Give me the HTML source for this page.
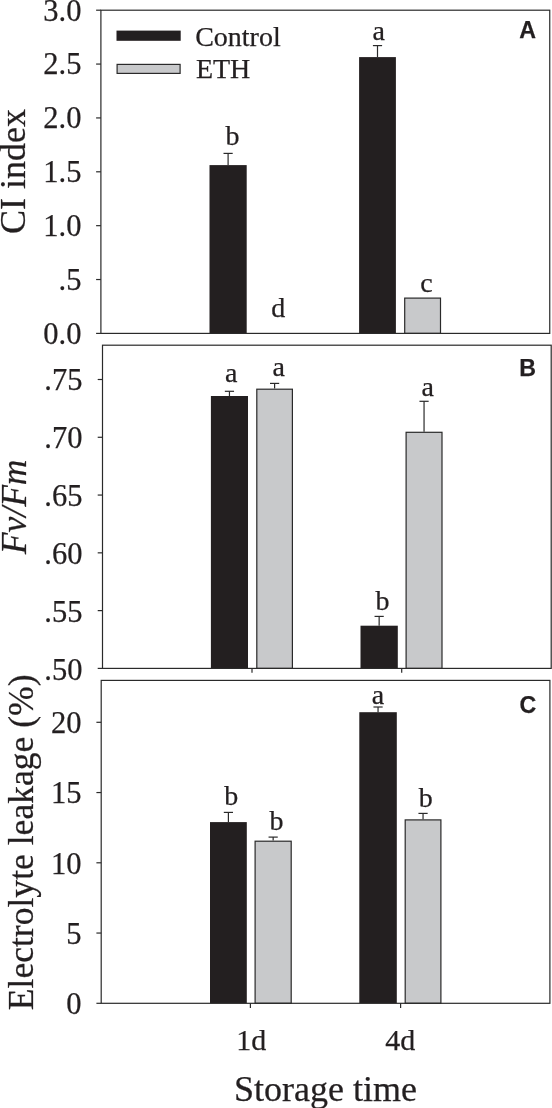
<!DOCTYPE html>
<html><head><meta charset="utf-8"><title>Figure</title>
<style>
html,body{margin:0;padding:0;background:#fff;}
body{width:552px;height:1108px;overflow:hidden;}
svg{display:block;will-change:transform;}
text{fill:#231f20;stroke:#231f20;stroke-width:0.25px;font-kerning:normal;}
</style></head>
<body>
<svg width="552" height="1108" viewBox="0 0 552 1108">
<rect width="552" height="1108" fill="#fff"/>
<rect x="209.50" y="165.10" width="37.20" height="168.30" fill="#231f20"/>
<line x1="228.10" y1="153.40" x2="228.10" y2="165.10" stroke="#2a2a2a" stroke-width="1.2"/>
<line x1="223.50" y1="153.40" x2="232.70" y2="153.40" stroke="#2a2a2a" stroke-width="1.2"/>
<text x="225.53" y="145.08" font-size="28" font-family='"Liberation Serif", serif'>b</text>
<text x="271.17" y="316.88" font-size="28" font-family='"Liberation Serif", serif'>d</text>
<rect x="359.10" y="57.10" width="36.80" height="276.30" fill="#231f20"/>
<line x1="377.50" y1="45.60" x2="377.50" y2="57.10" stroke="#2a2a2a" stroke-width="1.2"/>
<line x1="372.90" y1="45.60" x2="382.10" y2="45.60" stroke="#2a2a2a" stroke-width="1.2"/>
<text x="372.49" y="39.83" font-size="28" font-family='"Liberation Serif", serif'>a</text>
<rect x="404.70" y="298.10" width="35.80" height="35.30" fill="#c8c9cb" stroke="#2a2a2a" stroke-width="1.2"/>
<text x="420.28" y="291.76" font-size="28" font-family='"Liberation Serif", serif'>c</text>
<rect x="100.90" y="10.20" width="448.85" height="323.20" fill="none" stroke="#2a2a2a" stroke-width="1.2"/>
<line x1="96.10" y1="10.20" x2="100.90" y2="10.20" stroke="#2a2a2a" stroke-width="1.2"/>
<text x="43.34" y="20.53" font-size="30.5" font-family='"Liberation Serif", serif'>3.0</text>
<line x1="96.10" y1="64.07" x2="100.90" y2="64.07" stroke="#2a2a2a" stroke-width="1.2"/>
<text x="43.37" y="74.35" font-size="30.5" font-family='"Liberation Serif", serif'>2.5</text>
<line x1="96.10" y1="117.93" x2="100.90" y2="117.93" stroke="#2a2a2a" stroke-width="1.2"/>
<text x="43.34" y="128.26" font-size="30.5" font-family='"Liberation Serif", serif'>2.0</text>
<line x1="96.10" y1="171.80" x2="100.90" y2="171.80" stroke="#2a2a2a" stroke-width="1.2"/>
<text x="43.37" y="182.05" font-size="30.5" font-family='"Liberation Serif", serif'>1.5</text>
<line x1="96.10" y1="225.67" x2="100.90" y2="225.67" stroke="#2a2a2a" stroke-width="1.2"/>
<text x="43.34" y="235.99" font-size="30.5" font-family='"Liberation Serif", serif'>1.0</text>
<line x1="96.10" y1="279.53" x2="100.90" y2="279.53" stroke="#2a2a2a" stroke-width="1.2"/>
<text x="58.62" y="289.70" font-size="30.5" font-family='"Liberation Serif", serif'>.5</text>
<line x1="96.10" y1="333.40" x2="100.90" y2="333.40" stroke="#2a2a2a" stroke-width="1.2"/>
<text x="43.34" y="343.73" font-size="30.5" font-family='"Liberation Serif", serif'>0.0</text>
<text x="519.14" y="37.68" font-size="23.2" font-family='"Liberation Sans", sans-serif' font-weight="bold">A</text>
<text transform="translate(25.00,234.01) rotate(-90)" x="0" y="0" font-size="36" font-family='"Liberation Serif", serif'>CI index</text>
<rect x="210.90" y="396.00" width="37.10" height="272.40" fill="#231f20"/>
<line x1="229.45" y1="391.30" x2="229.45" y2="396.00" stroke="#2a2a2a" stroke-width="1.2"/>
<line x1="224.85" y1="391.30" x2="234.05" y2="391.30" stroke="#2a2a2a" stroke-width="1.2"/>
<text x="225.09" y="381.53" font-size="28" font-family='"Liberation Serif", serif'>a</text>
<rect x="256.80" y="389.20" width="35.60" height="279.20" fill="#c8c9cb" stroke="#2a2a2a" stroke-width="1.2"/>
<line x1="274.60" y1="383.40" x2="274.60" y2="388.60" stroke="#2a2a2a" stroke-width="1.2"/>
<line x1="270.00" y1="383.40" x2="279.20" y2="383.40" stroke="#2a2a2a" stroke-width="1.2"/>
<text x="272.49" y="376.43" font-size="28" font-family='"Liberation Serif", serif'>a</text>
<rect x="360.50" y="625.70" width="37.30" height="42.70" fill="#231f20"/>
<line x1="379.15" y1="616.40" x2="379.15" y2="625.70" stroke="#2a2a2a" stroke-width="1.2"/>
<line x1="374.55" y1="616.40" x2="383.75" y2="616.40" stroke="#2a2a2a" stroke-width="1.2"/>
<text x="375.53" y="610.08" font-size="28" font-family='"Liberation Serif", serif'>b</text>
<rect x="406.10" y="432.30" width="35.90" height="236.10" fill="#c8c9cb" stroke="#2a2a2a" stroke-width="1.2"/>
<line x1="424.05" y1="401.30" x2="424.05" y2="431.70" stroke="#2a2a2a" stroke-width="1.2"/>
<line x1="419.45" y1="401.30" x2="428.65" y2="401.30" stroke="#2a2a2a" stroke-width="1.2"/>
<text x="421.39" y="395.73" font-size="28" font-family='"Liberation Serif", serif'>a</text>
<rect x="102.50" y="345.20" width="448.70" height="323.20" fill="none" stroke="#2a2a2a" stroke-width="1.2"/>
<line x1="97.70" y1="379.50" x2="102.50" y2="379.50" stroke="#2a2a2a" stroke-width="1.2"/>
<text x="44.37" y="390.47" font-size="30.5" font-family='"Liberation Serif", serif'>.75</text>
<line x1="97.70" y1="437.28" x2="102.50" y2="437.28" stroke="#2a2a2a" stroke-width="1.2"/>
<text x="44.34" y="448.41" font-size="30.5" font-family='"Liberation Serif", serif'>.70</text>
<line x1="97.70" y1="495.06" x2="102.50" y2="495.06" stroke="#2a2a2a" stroke-width="1.2"/>
<text x="44.37" y="506.14" font-size="30.5" font-family='"Liberation Serif", serif'>.65</text>
<line x1="97.70" y1="552.84" x2="102.50" y2="552.84" stroke="#2a2a2a" stroke-width="1.2"/>
<text x="44.34" y="563.97" font-size="30.5" font-family='"Liberation Serif", serif'>.60</text>
<line x1="97.70" y1="610.62" x2="102.50" y2="610.62" stroke="#2a2a2a" stroke-width="1.2"/>
<text x="44.37" y="621.59" font-size="30.5" font-family='"Liberation Serif", serif'>.55</text>
<line x1="97.70" y1="668.40" x2="102.50" y2="668.40" stroke="#2a2a2a" stroke-width="1.2"/>
<text x="44.34" y="679.53" font-size="30.5" font-family='"Liberation Serif", serif'>.50</text>
<text x="519.37" y="376.28" font-size="23.2" font-family='"Liberation Sans", sans-serif' font-weight="bold">B</text>
<text transform="translate(26.40,554.17) rotate(-90)" x="0" y="0" font-size="35.5" font-family='"Liberation Serif", serif' font-style="italic">Fv/Fm</text>
<rect x="210.00" y="822.10" width="36.80" height="181.20" fill="#231f20"/>
<line x1="228.40" y1="812.40" x2="228.40" y2="822.10" stroke="#2a2a2a" stroke-width="1.2"/>
<line x1="223.80" y1="812.40" x2="233.00" y2="812.40" stroke="#2a2a2a" stroke-width="1.2"/>
<text x="224.13" y="805.38" font-size="28" font-family='"Liberation Serif", serif'>b</text>
<rect x="255.10" y="841.20" width="36.10" height="162.10" fill="#c8c9cb" stroke="#2a2a2a" stroke-width="1.2"/>
<line x1="273.15" y1="837.10" x2="273.15" y2="840.60" stroke="#2a2a2a" stroke-width="1.2"/>
<line x1="268.55" y1="837.10" x2="277.75" y2="837.10" stroke="#2a2a2a" stroke-width="1.2"/>
<text x="269.43" y="830.18" font-size="28" font-family='"Liberation Serif", serif'>b</text>
<rect x="359.30" y="712.20" width="37.50" height="291.10" fill="#231f20"/>
<line x1="378.05" y1="707.00" x2="378.05" y2="712.20" stroke="#2a2a2a" stroke-width="1.2"/>
<line x1="373.45" y1="707.00" x2="382.65" y2="707.00" stroke="#2a2a2a" stroke-width="1.2"/>
<text x="371.79" y="704.33" font-size="28" font-family='"Liberation Serif", serif'>a</text>
<rect x="405.20" y="819.90" width="35.70" height="183.40" fill="#c8c9cb" stroke="#2a2a2a" stroke-width="1.2"/>
<line x1="423.05" y1="813.40" x2="423.05" y2="819.30" stroke="#2a2a2a" stroke-width="1.2"/>
<line x1="418.45" y1="813.40" x2="427.65" y2="813.40" stroke="#2a2a2a" stroke-width="1.2"/>
<text x="418.63" y="806.68" font-size="28" font-family='"Liberation Serif", serif'>b</text>
<rect x="101.20" y="680.40" width="448.70" height="322.90" fill="none" stroke="#2a2a2a" stroke-width="1.2"/>
<line x1="96.40" y1="722.30" x2="101.20" y2="722.30" stroke="#2a2a2a" stroke-width="1.2"/>
<text x="50.96" y="733.19" font-size="30.5" font-family='"Liberation Serif", serif'>20</text>
<line x1="96.40" y1="792.55" x2="101.20" y2="792.55" stroke="#2a2a2a" stroke-width="1.2"/>
<text x="50.99" y="803.37" font-size="30.5" font-family='"Liberation Serif", serif'>15</text>
<line x1="96.40" y1="862.80" x2="101.20" y2="862.80" stroke="#2a2a2a" stroke-width="1.2"/>
<text x="50.96" y="873.69" font-size="30.5" font-family='"Liberation Serif", serif'>10</text>
<line x1="96.40" y1="933.05" x2="101.20" y2="933.05" stroke="#2a2a2a" stroke-width="1.2"/>
<text x="66.24" y="943.79" font-size="30.5" font-family='"Liberation Serif", serif'>5</text>
<line x1="96.40" y1="1003.30" x2="101.20" y2="1003.30" stroke="#2a2a2a" stroke-width="1.2"/>
<text x="66.21" y="1014.19" font-size="30.5" font-family='"Liberation Serif", serif'>0</text>
<text x="519.56" y="712.89" font-size="23.2" font-family='"Liberation Sans", sans-serif' font-weight="bold">C</text>
<text transform="translate(33.00,1010.24) rotate(-90)" x="0" y="0" font-size="35.6" font-family='"Liberation Serif", serif'>Electrolyte leakage (%)</text>
<line x1="252.00" y1="668.40" x2="252.00" y2="672.80" stroke="#2a2a2a" stroke-width="1.2"/>
<line x1="401.70" y1="668.40" x2="401.70" y2="672.80" stroke="#2a2a2a" stroke-width="1.2"/>
<rect x="116.5" y="30.6" width="64.2" height="10.2" fill="#231f20"/>
<rect x="117.1" y="64.4" width="63.0" height="9.0" fill="#c8c9cb" stroke="#2a2a2a" stroke-width="1.2"/>
<text x="195.13" y="45.58" font-size="28" font-family='"Liberation Serif", serif'>Control</text>
<text x="195.89" y="78.47" font-size="28" font-family='"Liberation Serif", serif'>ETH</text>
<line x1="250.40" y1="1003.30" x2="250.40" y2="1008.00" stroke="#2a2a2a" stroke-width="1.2"/>
<text x="236.26" y="1050.06" font-size="30" font-family='"Liberation Serif", serif'>1d</text>
<line x1="400.60" y1="1003.30" x2="400.60" y2="1008.00" stroke="#2a2a2a" stroke-width="1.2"/>
<text x="385.29" y="1050.06" font-size="30" font-family='"Liberation Serif", serif'>4d</text>
<text x="234.04" y="1100.63" font-size="36" font-family='"Liberation Serif", serif'>Storage time</text>
</svg>
</body></html>
